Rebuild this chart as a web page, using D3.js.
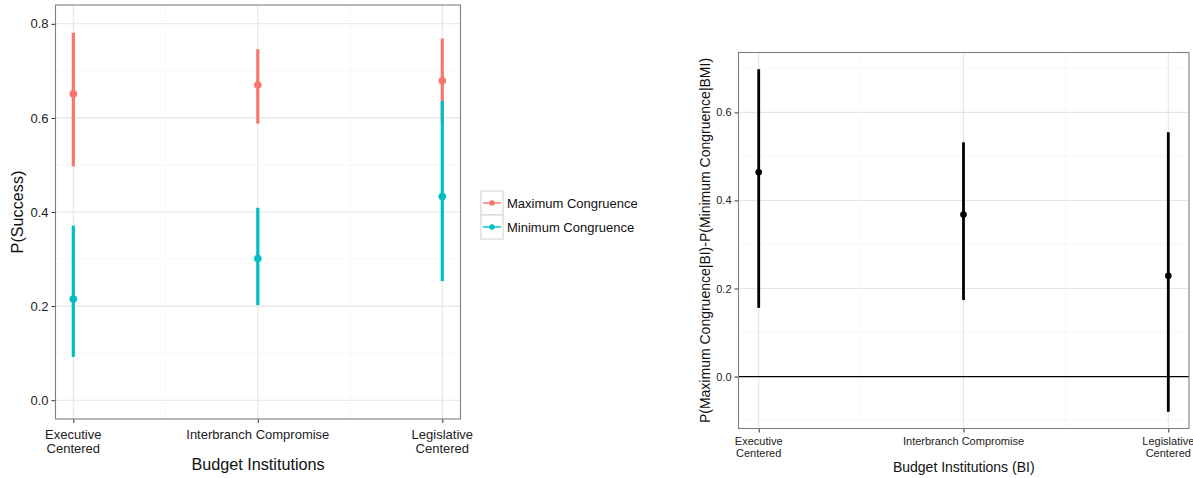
<!DOCTYPE html>
<html><head><meta charset="utf-8">
<script src="https://cdn.jsdelivr.net/npm/d3@7"></script>
<style>body{margin:0;background:#fff;} svg{display:block;font-family:"Liberation Sans",Arial,Helvetica,sans-serif;}</style>
</head><body>
<svg id="c" width="1193" height="478"></svg>
<script>
const categories = ["Executive\nCentered", "Interbranch Compromise", "Legislative\nCentered"];
const seriesNames = ["Maximum Congruence", "Minimum Congruence"];
const seriesColors = ["#F8766D", "#00BFC4"];
const maxEst = [0.651, 0.670, 0.679];
const maxLo  = [0.497, 0.588, 0.590];
const maxHi  = [0.781, 0.746, 0.769];
const minEst = [0.215, 0.301, 0.433];
const minLo  = [0.092, 0.202, 0.253];
const minHi  = [0.371, 0.409, 0.636];
const diffEst = [0.464, 0.368, 0.229];
const diffLo  = [0.156, 0.174, -0.080];
const diffHi  = [0.698, 0.532, 0.555];
const leftTicks = [0.0, 0.2, 0.4, 0.6, 0.8];
const leftMinor = [0.1, 0.3, 0.5, 0.7];
const rightTicks = [0.0, 0.2, 0.4, 0.6];
const rightMinor = [-0.1, 0.1, 0.3, 0.5, 0.7];

const svg = d3.select("#c");

function panel(opt){
  const g = svg.append("g");
  const {L,R,T,B} = opt;
  const x = d3.scalePoint().domain(categories).range([opt.x0, opt.x2]);
  const y = d3.scaleLinear().domain(opt.ydom).range([B, T]);
  g.append("rect").attr("x",L).attr("y",T).attr("width",R-L).attr("height",B-T).attr("fill","#fff");
  opt.minor.forEach(v=>{ if(y(v)>T && y(v)<B) g.append("line").attr("x1",L).attr("x2",R).attr("y1",y(v)).attr("y2",y(v)).attr("stroke","#f2f2f2").attr("stroke-width",0.6);});
  const step = x.step();
  [0,1].forEach(i=>{ const xv = x(categories[i])+step/2; g.append("line").attr("x1",xv).attr("x2",xv).attr("y1",T).attr("y2",B).attr("stroke","#f2f2f2").attr("stroke-width",0.6);});
  opt.ticks.forEach(v=>g.append("line").attr("x1",L).attr("x2",R).attr("y1",y(v)).attr("y2",y(v)).attr("stroke","#e5e5e5").attr("stroke-width",1.1));
  categories.forEach(c=>g.append("line").attr("x1",x(c)).attr("x2",x(c)).attr("y1",T).attr("y2",B).attr("stroke","#e5e5e5").attr("stroke-width",1.1));
  const ya = g.append("g").attr("transform",`translate(${L},0)`).call(d3.axisLeft(y).tickValues(opt.ticks).tickFormat(d3.format(".1f")).tickSize(4).tickPadding(3));
  ya.select(".domain").remove();
  ya.selectAll("line").attr("stroke","#333").attr("stroke-width",1);
  ya.selectAll("text").attr("font-size",opt.tickFs).attr("fill","#222").attr("font-family","Liberation Sans, Arial, sans-serif");
  const xa = g.append("g").attr("transform",`translate(0,${B})`).call(d3.axisBottom(x).tickSize(4).tickFormat(""));
  xa.select(".domain").remove();
  xa.selectAll("line").attr("stroke","#333").attr("stroke-width",1);
  categories.forEach(c=>{
    const lines = c.split("\n");
    const t = g.append("text").attr("x",x(c)).attr("text-anchor","middle").attr("font-size",opt.tickFs).attr("fill","#222");
    lines.forEach((ln,i)=>t.append("tspan").attr("x",x(c)).attr("y",opt.xlabY + i*opt.lineH).text(ln));
  });
  g.append("text").attr("x",(L+R)/2).attr("y",opt.xtitleY).attr("text-anchor","middle").attr("font-size",opt.titleFs).attr("fill","#111").text(opt.xtitle);
  g.append("text").attr("transform",`translate(${opt.ytitleX},${(T+B)/2}) rotate(-90)`).attr("text-anchor","middle").attr("font-size",opt.titleFs).attr("fill","#111").text(opt.ytitle);
  return {g,x,y};
}

const P1 = panel({L:55.5,R:460.5,T:5,B:419,x0:73.3,x2:442.3,ydom:[-0.04,0.84],ticks:leftTicks,minor:leftMinor,
  tickFs:13,titleFs:16.2,xlabY:438.5,lineH:14.5,xtitleY:470,ytitleX:23,xtitle:"Budget Institutions",ytitle:"P(Success)"});
const sets = [[maxEst,maxLo,maxHi],[minEst,minLo,minHi]];
sets.forEach((s,si)=>{
  categories.forEach((c,i)=>{
    P1.g.append("line").attr("x1",P1.x(c)).attr("x2",P1.x(c)).attr("y1",P1.y(s[1][i])).attr("y2",P1.y(s[2][i])).attr("stroke",seriesColors[si]).attr("stroke-width",3.2);
    P1.g.append("circle").attr("cx",P1.x(c)).attr("cy",P1.y(s[0][i])).attr("r",3.8).attr("fill",seriesColors[si]);
  });
});
P1.g.append("rect").attr("x",55.5).attr("y",5).attr("width",405).attr("height",414).attr("fill","none").attr("stroke","#7f7f7f").attr("stroke-width",1.1);

const lg = svg.append("g");
seriesNames.forEach((n,i)=>{
  const y0 = 191 + i*24;
  lg.append("rect").attr("x",481).attr("y",y0).attr("width",22).attr("height",24).attr("fill","#fff").attr("stroke","#d0d0d0").attr("stroke-width",1);
  lg.append("line").attr("x1",483).attr("x2",501).attr("y1",y0+12).attr("y2",y0+12).attr("stroke",seriesColors[i]).attr("stroke-width",1.4);
  lg.append("circle").attr("cx",492).attr("cy",y0+12).attr("r",2.8).attr("fill",seriesColors[i]);
  lg.append("text").attr("x",507).attr("y",y0+16.5).attr("font-size",13).attr("fill","#111").text(n);
});

const P2 = panel({L:738.5,R:1189,T:52.5,B:428.5,x0:758.7,x2:1168.3,ydom:[-0.118,0.736],ticks:rightTicks,minor:rightMinor,
  tickFs:11,titleFs:14,xlabY:445,lineH:11.8,xtitleY:471.5,ytitleX:710,xtitle:"Budget Institutions (BI)",ytitle:"P(Maximum Congruence|BI)-P(Minimum Congruence|BMI)"});
P2.g.append("line").attr("x1",738.5).attr("x2",1189).attr("y1",P2.y(0)).attr("y2",P2.y(0)).attr("stroke","#000").attr("stroke-width",1.2);
categories.forEach((c,i)=>{
  P2.g.append("line").attr("x1",P2.x(c)).attr("x2",P2.x(c)).attr("y1",P2.y(diffLo[i])).attr("y2",P2.y(diffHi[i])).attr("stroke","#000").attr("stroke-width",2.8);
  P2.g.append("circle").attr("cx",P2.x(c)).attr("cy",P2.y(diffEst[i])).attr("r",3.3).attr("fill","#000");
});
P2.g.append("rect").attr("x",738.5).attr("y",52.5).attr("width",450.5).attr("height",376).attr("fill","none").attr("stroke","#7f7f7f").attr("stroke-width",1.1);
</script>
</body></html>
